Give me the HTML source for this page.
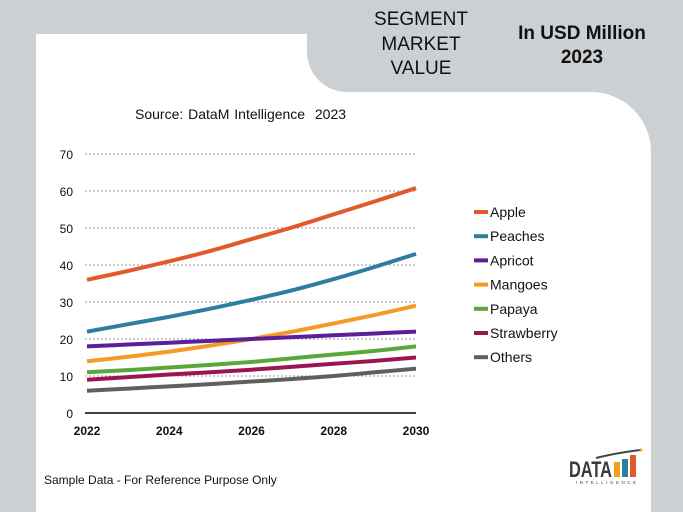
<!DOCTYPE html>
<html><head><meta charset="utf-8"><style>
body{margin:0;width:683px;height:512px;background:#cdd0d3;position:relative;overflow:hidden;font-family:"Liberation Sans",Arial,sans-serif}
.abs{position:absolute}
</style></head><body>
<svg class="abs" style="left:0;top:0" width="683" height="512">
<path d="M36 34 H307 V52 A40 40 0 0 0 347 92 H591 A60 60 0 0 1 651 152 V512 H36 Z" fill="#fff"/>
</svg>
<div class="abs" style="left:351px;top:8px;width:140px;text-align:center;font-size:19px;line-height:24.5px;color:#111">SEGMENT<br>MARKET<br>VALUE</div>
<div class="abs" style="left:497px;top:22px;width:170px;text-align:center;font-size:19px;font-weight:bold;line-height:24px;color:#111">In USD Million<br>2023</div>
<div class="abs" style="left:135px;top:106px;font-size:14px;color:#111;word-spacing:1px">Source: DataM Intelligence&nbsp; 2023</div>
<div class="abs" style="left:44px;top:473px;font-size:12px;color:#111">Sample Data - For Reference Purpose Only</div>
<svg class="abs" style="left:0;top:0" width="683" height="512" id="chart"></svg>
<svg class="abs" style="left:568px;top:448px" width="75" height="40">
<text x="1" y="29" font-family="Liberation Sans" font-weight="bold" font-size="22" fill="#3a3a3a" textLength="43" lengthAdjust="spacingAndGlyphs">DATA</text>
<rect x="46" y="14" width="6" height="15" fill="#f0a020"/><rect x="54" y="11" width="6" height="18" fill="#2e7ea1"/><rect x="62" y="7" width="6" height="22" fill="#e05a2b"/>
<path d="M28 10 Q48 5 72 2" stroke="#444" stroke-width="2" fill="none"/>
<circle cx="73" cy="2" r="1.5" fill="#f0a020"/>
<text x="8" y="36" font-family="Liberation Sans" font-size="4.5" fill="#444" textLength="60" lengthAdjust="spacing">INTELLIGENCE</text>
</svg>
<script>
const years=[2022,2023,2024,2025,2026,2027,2028,2029,2030];
const xTicks=[2022,2024,2026,2028,2030];
const yTicks=[0,10,20,30,40,50,60,70];
const names=["Apple","Peaches","Apricot","Mangoes","Papaya","Strawberry","Others"];
const colors=["#e05a2b","#2e7ea1","#5b1f9a","#f59a23","#5aa83a","#9b1650","#5f5f5f"];
const apple=[36,38.4,41,43.8,47,50.2,53.7,57.2,60.8];
const peaches=[22,24,26,28.2,30.6,33.2,36.2,39.5,43];
const apricot=[18,18.5,19,19.5,20,20.5,21,21.5,22];
const mangoes=[14,15.2,16.6,18.2,20,22,24.2,26.5,29];
const papaya=[11,11.6,12.3,13,13.8,14.8,15.8,16.8,18];
const strawberry=[9,9.7,10.4,11,11.7,12.5,13.3,14.1,15];
const others=[6,6.6,7.2,7.8,8.5,9.2,10,11,12];
const series=[apple,peaches,apricot,mangoes,papaya,strawberry,others];
const X0=87,X1=416,Y0=413,Y1=154;
const xs=v=>X0+(v-2022)/(2030-2022)*(X1-X0);
const ys=v=>Y0-(v/70)*(Y0-Y1);
const svg=document.getElementById('chart');const NS='http://www.w3.org/2000/svg';
function mk(t,a){const e=document.createElementNS(NS,t);for(const k in a)e.setAttribute(k,a[k]);svg.appendChild(e);return e;}
yTicks.forEach(t=>{
 if(t>0){const g=mk('line',{x1:85,x2:X1,y1:ys(t),y2:ys(t),stroke:'#999','stroke-dasharray':'2,2','stroke-width':1});
 
 }
 const l=mk('text',{x:73,y:ys(t)+5,'text-anchor':'end','font-size':12,fill:'#111','font-family':'Liberation Sans'});l.textContent=t;
 
 
});
const ax=mk('line',{x1:85,x2:X1,y1:Y0,y2:Y0,stroke:'#000','stroke-width':1.5});


xTicks.forEach(t=>{const l=mk('text',{x:xs(t),y:435,'text-anchor':'middle','font-size':12,'font-weight':'bold',fill:'#111','font-family':'Liberation Sans'});l.textContent=t;
 
 });
series.slice().reverse().forEach((s,ri)=>{const i=series.length-1-ri;
 const pts=s.map((v,j)=>[xs(years[j]),ys(v)]);
 let d='M'+pts[0].join(' ');
 for(let j=0;j<pts.length-1;j++){const p0=pts[j-1]||pts[j],p1=pts[j],p2=pts[j+1],p3=pts[j+2]||p2;
  d+=` C${p1[0]+(p2[0]-p0[0])/6} ${p1[1]+(p2[1]-p0[1])/6} ${p2[0]-(p3[0]-p1[0])/6} ${p2[1]-(p3[1]-p1[1])/6} ${p2[0]} ${p2[1]}`;}
 const p=mk('path',{d:d,stroke:colors[i],'stroke-width':4,fill:'none'});
 
 
});
names.forEach((n,i)=>{const y=212+i*24.2;
 const m=mk('line',{x1:474,x2:488,y1:y,y2:y,stroke:colors[i],'stroke-width':4});
 
 
 const t=mk('text',{x:490,y:y+5,'font-size':14,fill:'#111','font-family':'Liberation Sans'});t.textContent=n;
 
 
});
</script>
</body></html>
